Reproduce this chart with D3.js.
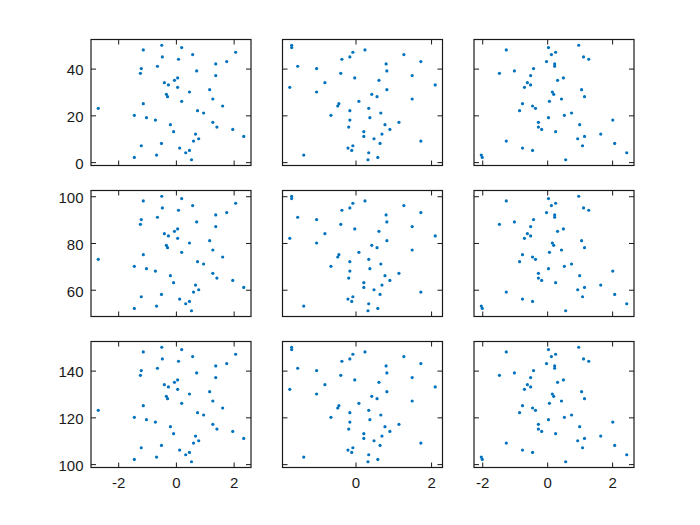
<!DOCTYPE html>
<html>
<head>
<meta charset="utf-8">
<script src="https://cdn.jsdelivr.net/npm/d3@7"></script>
<style>
  html, body { margin: 0; padding: 0; background: #fff; }
  svg { display: block; }
  text { font-family: "Liberation Sans", Arial, sans-serif; font-size: 15px; fill: #1a1a1a; }
</style>
</head>
<body>
<svg id="chart" width="700" height="525"></svg>
<script>
// x values per column (ordered so that point i pairs with the i-th y value of a row)
const xCol0 = [0.54, -1.44, -0.67, 0.34, 0.47, 0.13, -1.2, -0.5, 0.61, 0.79,
               2.35, 0.68, -0.08, 1.97, 1.42, -0.19, 1.28, -0.71, -1.02, -1.44,
               0.96, 0.75, -2.69, 1.62, -1.13, 0.2, 1.28, -0.29, -0.33, 0.47,
               1.17, 0.06, -0.26, -0.4, -0.05, 0.06, 1.38, -1.23, 0.72, -1.2,
               -0.64, 1.38, 1.76, 0.09, -0.47, 0.58, 2.07, -1.13, 0.2, -0.49];
const xCol1 = [0.33, 0.59, -1.37, 0.35, -0.1, -0.2, -0.07, 0.65, 1.73, 0.49,
               0.22, 0.7, 0.22, 0.91, -0.18, 0.78, 1.15, -0.15, 0.38, -0.65,
               0.67, -0.15, 0.35, -0.47, -0.44, 0.09, 1.5, 0.57, 0.43, -1.03,
               0.83, -1.74, 2.11, -0.81, 0.62, -0.02, 1.5, -0.39, 0.83, -1.03,
               -1.53, 0.81, 1.73, -0.36, -0.15, 1.28, -0.07, 0.25, -1.69, -1.69];
const xCol2 = [0.57, -2.0, -2.03, 2.45, -0.45, -0.76, 1.09, 2.08, -1.26, 0.94,
               1.15, 1.65, 0.26, -0.17, -0.27, 1.0, -0.27, 2.02, 0.04, 0.53,
               0.75, -0.85, -0.36, -0.45, -0.76, 0.07, 0.44, 1.15, 0.2, 0.16,
               1.06, -0.7, -0.51, -0.61, 0.32, 0.5, -0.51, -1.47, -1.01, -0.42,
               0.23, 0.23, -0.02, 1.28, 1.12, 0.13, 0.26, -1.26, 0.04, 0.97];

// y values per row
const yRow0 = [1, 2, 3, 4, 5, 6, 7, 8, 9, 10, 11, 12, 13, 14, 15, 16, 17, 18, 19, 20,
               21, 22, 23, 24, 25, 26, 27, 28, 29, 30, 31, 32, 33, 34, 35, 36, 37, 38, 39, 40,
               41, 42, 43, 44, 45, 46, 47, 48, 49, 50];
const yRow1 = [51, 52, 53, 54, 55, 56, 57, 58, 59, 60, 61, 62, 63, 64, 65, 66, 67, 68, 69, 70,
               71, 72, 73, 74, 75, 76, 77, 78, 79, 80, 81, 82, 83, 84, 85, 86, 87, 88, 89, 90,
               91, 92, 93, 94, 95, 96, 97, 98, 99, 100];
const yRow2 = [101, 102, 103, 104, 105, 106, 107, 108, 109, 110, 111, 112, 113, 114, 115, 116, 117, 118, 119, 120,
               121, 122, 123, 124, 125, 126, 127, 128, 129, 130, 131, 132, 133, 134, 135, 136, 137, 138, 139, 140,
               141, 142, 143, 144, 145, 146, 147, 148, 149, 150];

// tick labels
const xTicksCol0 = [-2, 0, 2];
const xTicksCol1 = [-2, 0, 2];
const xTicksCol2 = [-2, 0, 2];
const yTicksRow0 = [0, 20, 40];
const yTicksRow1 = [60, 80, 100];
const yTicksRow2 = [100, 120, 140];

const xCols = [xCol0, xCol1, xCol2];
const yRows = [yRow0, yRow1, yRow2];
const xTicks = [xTicksCol0, xTicksCol1, xTicksCol2];
const yTicks = [yTicksRow0, yTicksRow1, yTicksRow2];

// layout
const colLeft = [91, 282.5, 474];
const rowTop = [39.5, 190.5, 341.5];
const pw = 160, ph = 126;
const tickLen = 5;
const frameColor = "#1a1a1a";
const markColor = "#0072BD";

function padded(arr) {
  const [lo, hi] = d3.extent(arr);
  const m = (hi - lo) * 0.05;
  return [lo - m, hi + m];
}

const xScales = xCols.map((xs, c) => d3.scaleLinear().domain(padded(xs)).range([colLeft[c], colLeft[c] + pw]));
const yScales = yRows.map((ys, r) => d3.scaleLinear().domain(padded(ys)).range([rowTop[r] + ph, rowTop[r]]));

const svg = d3.select("#chart");

for (let r = 0; r < 3; r++) {
  for (let c = 0; c < 3; c++) {
    const xs = xScales[c], ys = yScales[r];
    const [xd0, xd1] = xs.domain();
    const [yd0, yd1] = ys.domain();
    const xt = xTicks[c].filter(v => v >= xd0 && v <= xd1);
    const yt = yTicks[r].filter(v => v >= yd0 && v <= yd1);
    const g = svg.append("g");
    const x0 = colLeft[c], y0 = rowTop[r];

    // points
    const pts = xCols[c].map((xv, i) => [xv, yRows[r][i]]);
    g.append("g").selectAll("circle").data(pts).join("circle")
      .attr("cx", d => xs(d[0]))
      .attr("cy", d => ys(d[1]))
      .attr("r", 1.6)
      .attr("fill", markColor);

    // axes (inward ticks on all sides)
    const axB = d3.axisBottom(xs).tickValues(xt).tickSizeInner(-tickLen).tickSizeOuter(0)
      .tickFormat(r === 2 ? (d => String(d)) : () => "");
    const axT = d3.axisTop(xs).tickValues(xt).tickSizeInner(-tickLen).tickSizeOuter(0).tickFormat(() => "");
    const axL = d3.axisLeft(ys).tickValues(yt).tickSizeInner(-tickLen).tickSizeOuter(0)
      .tickFormat(c === 0 ? (d => String(d)) : () => "");
    const axR = d3.axisRight(ys).tickValues(yt).tickSizeInner(-tickLen).tickSizeOuter(0).tickFormat(() => "");

    const gb = g.append("g").attr("transform", `translate(0,${y0 + ph})`).call(axB);
    const gt = g.append("g").attr("transform", `translate(0,${y0})`).call(axT);
    const gl = g.append("g").attr("transform", `translate(${x0},0)`).call(axL);
    const gr = g.append("g").attr("transform", `translate(${x0 + pw},0)`).call(axR);

    [gb, gt, gl, gr].forEach(a => {
      a.select(".domain").remove();
      a.selectAll(".tick line").attr("stroke", frameColor).attr("stroke-width", 1);
      a.attr("font-family", null).attr("font-size", null);
    });
    gb.selectAll(".tick text").attr("y", 20).attr("dy", 0).attr("fill", frameColor);
    gl.selectAll(".tick text").attr("x", -7.5).attr("dy", "0.42em").attr("fill", frameColor);

    // frame
    g.append("rect")
      .attr("x", x0).attr("y", y0).attr("width", pw).attr("height", ph)
      .attr("fill", "none").attr("stroke", frameColor).attr("stroke-width", 1.2);
  }
}
</script>
</body>
</html>
